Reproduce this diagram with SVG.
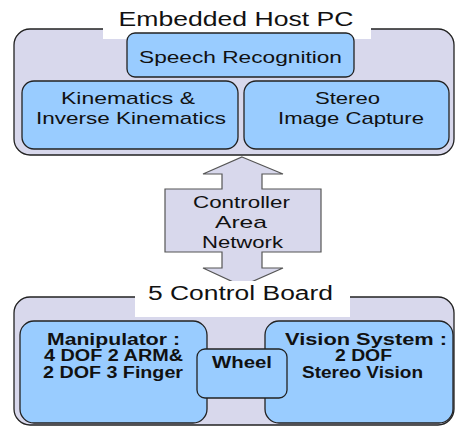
<svg xmlns="http://www.w3.org/2000/svg" width="455" height="427" viewBox="0 0 455 427">
<style>
.outer{fill:#d8d8ec;stroke:#222;stroke-width:1.3}
.box{fill:#99ccff;stroke:#222;stroke-width:1.3}
.title{font-family:"Liberation Sans",Arial,sans-serif;font-size:20px;fill:#111}
.t{font-family:"Liberation Sans",Arial,sans-serif;font-size:17px;fill:#111}
.b{font-family:"Liberation Sans",Arial,sans-serif;font-size:16px;font-weight:bold;fill:#111}
.arrow{fill:#d8d8ec;stroke:#555;stroke-width:1.2}
</style>
<rect width="455" height="427" fill="#fff"/>
<g id="host">
  <rect class="outer" x="14" y="29" width="440" height="126" rx="16"/>
  <rect x="103" y="0" width="268" height="39" fill="#fff"/>
  <text class="title" x="236" y="26" text-anchor="middle" textLength="235" lengthAdjust="spacingAndGlyphs">Embedded Host PC</text>
</g>
<g id="speech">
  <rect class="box" x="127" y="33" width="227" height="44" rx="8"/>
  <text class="t" x="240.5" y="63" text-anchor="middle" textLength="203" lengthAdjust="spacingAndGlyphs">Speech Recognition</text>
</g>
<g id="kinematics">
  <rect class="box" x="22" y="81" width="216" height="68" rx="12"/>
  <text class="t" x="128" y="104" text-anchor="middle" textLength="134" lengthAdjust="spacingAndGlyphs">Kinematics &amp;</text>
  <text class="t" x="131" y="124" text-anchor="middle" textLength="190" lengthAdjust="spacingAndGlyphs">Inverse Kinematics</text>
</g>
<g id="stereo">
  <rect class="box" x="244" y="81" width="205" height="68" rx="12"/>
  <text class="t" x="347.5" y="104" text-anchor="middle" textLength="65" lengthAdjust="spacingAndGlyphs">Stereo</text>
  <text class="t" x="351" y="124" text-anchor="middle" textLength="146" lengthAdjust="spacingAndGlyphs">Image Capture</text>
</g>
<g id="connectors">
  <path class="arrow" d="M242,157 L283,174 L262,174 L262,189 L321,189 L321,252 L262,252 L262,268 L283,268 L242,286 L203,268 L222,268 L222,252 L165,252 L165,189 L222,189 L222,174 L203,174 Z"/>
</g>
<g id="can">
  <text class="t" x="241.5" y="208" text-anchor="middle" textLength="97" lengthAdjust="spacingAndGlyphs">Controller</text>
  <text class="t" x="241" y="228" text-anchor="middle" textLength="52" lengthAdjust="spacingAndGlyphs">Area</text>
  <text class="t" x="242.5" y="248" text-anchor="middle" textLength="81" lengthAdjust="spacingAndGlyphs">Network</text>
</g>
<g id="control">
  <rect class="outer" x="14" y="297" width="440" height="128" rx="16"/>
  <rect x="135" y="281" width="215" height="36" fill="#fff"/>
  <text class="title" x="240.5" y="300" text-anchor="middle" textLength="185" lengthAdjust="spacingAndGlyphs">5 Control Board</text>
</g>
<g id="manipulator">
  <rect class="box" x="20" y="321" width="187" height="102" rx="14"/>
  <text class="b" x="113.5" y="345" text-anchor="middle" textLength="133" lengthAdjust="spacingAndGlyphs">Manipulator :</text>
  <text class="b" x="113.5" y="361" text-anchor="middle" textLength="139" lengthAdjust="spacingAndGlyphs">4 DOF 2 ARM&amp;</text>
  <text class="b" x="113" y="378" text-anchor="middle" textLength="140" lengthAdjust="spacingAndGlyphs">2 DOF 3 Finger</text>
</g>
<g id="vision">
  <rect class="box" x="265" y="321" width="188" height="102" rx="14"/>
  <text class="b" x="366" y="345" text-anchor="middle" textLength="162" lengthAdjust="spacingAndGlyphs">Vision System :</text>
  <text class="b" x="363.5" y="361" text-anchor="middle" textLength="57" lengthAdjust="spacingAndGlyphs">2 DOF</text>
  <text class="b" x="362.5" y="378" text-anchor="middle" textLength="121" lengthAdjust="spacingAndGlyphs">Stereo Vision</text>
</g>
<g id="wheel">
  <rect class="box" x="197" y="349" width="90" height="49" rx="8"/>
  <text class="b" x="242" y="368" text-anchor="middle" textLength="60" lengthAdjust="spacingAndGlyphs">Wheel</text>
</g>
</svg>
